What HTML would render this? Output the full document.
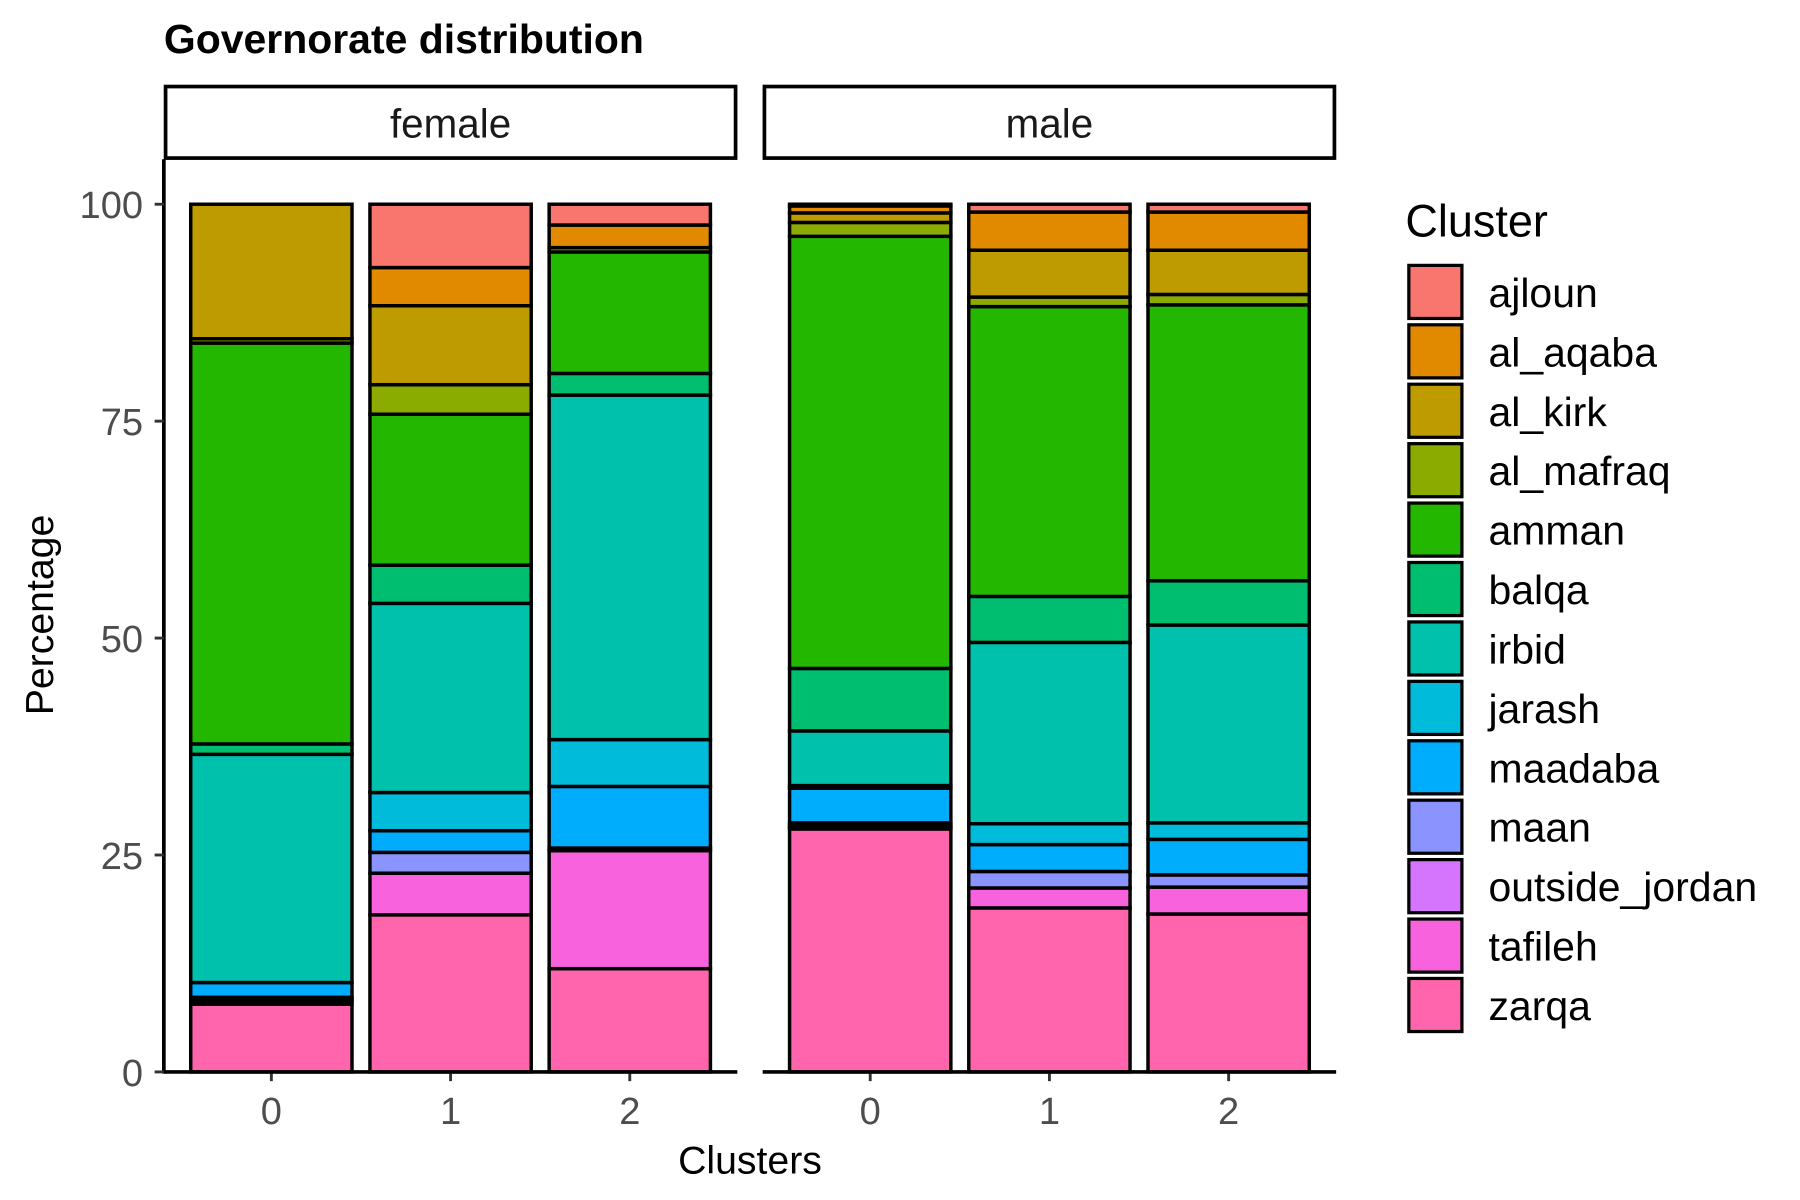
<!DOCTYPE html>
<html><head><meta charset="utf-8"><style>
html,body{margin:0;padding:0;background:#fff}
svg{display:block;font-family:"Liberation Sans",Arial,sans-serif}
</style></head><body>
<svg id="chart" width="1800" height="1200" viewBox="0 0 1560 1040">
<text x="142" y="46" font-size="35.5" font-weight="bold" fill="#000">Governorate distribution</text>
<g id="panels"></g>
<text transform="translate(46,533) rotate(-90)" text-anchor="middle" font-size="34" fill="#000">Percentage</text>
<text x="650" y="1017" text-anchor="middle" font-size="34" fill="#000">Clusters</text>
<text x="1218" y="205" font-size="39" fill="#000">Cluster</text>
<g id="legend"></g>
</svg>
<script>
const series = ["zarqa","tafileh","outside_jordan","maan","maadaba","jarash","irbid","balqa","amman","al_mafraq","al_kirk","al_aqaba","ajloun"];
const colors = ["#FF65AC","#F962DD","#D575FE","#8B93FF","#00ACFC","#00BBDA","#00C1AB","#00BE70","#24B700","#8CAB00","#BE9C00","#E18A00","#F8766D"];
const panels = ["female","male"];
const categories = ["0","1","2"];
const yTicks = [0,25,50,75,100];
const female0 = [7.8,0,0.4,0.4,1.7,0,26.3,1.2,46.2,0.5,15.5,0,0];
const female1 = [18.1,4.8,0,2.4,2.5,4.4,21.8,4.4,17.4,3.4,9.1,4.4,7.3];
const female2 = [11.9,13.6,0,0.3,7.1,5.4,39.7,2.5,14.0,0.5,0,2.6,2.4];
const male0 = [28.0,0.2,0.2,0.3,4.0,0.3,6.3,7.2,49.8,1.6,1.1,0.8,0.2];
const male1 = [18.9,2.3,0,1.9,3.1,2.4,20.9,5.3,33.4,1.1,5.4,4.4,0.9];
const male2 = [18.2,3.1,0,1.4,4.1,1.9,22.8,5.1,31.8,1.2,5.1,4.4,0.9];
const values = {female:[female0,female1,female2], male:[male0,male1,male2]};

const NS="http://www.w3.org/2000/svg";
function mk(t,a,p){const e=document.createElementNS(NS,t);for(const k in a)e.setAttribute(k,a[k]);p.appendChild(e);return e;}
const Y0=929,Y1=177;
const y=v=>Y0-(v/100)*(Y0-Y1);
const panelX=[142,661], panelW=497;
const step=panelW/(categories.length+0.2);
const x=(pi,ci)=>panelX[pi]+step*(ci+0.6);
const bw=step*0.9;
const G=document.getElementById('panels');
panels.forEach((p,pi)=>{
  const g=mk('g',{},G);
  
  
  const strip=mk('rect',{x:panelX[pi]+1.5,y:75,width:panelW-3,height:62,fill:'#fff',stroke:'#000','stroke-width':3.2},g);
  
  
  const st=mk('text',{x:panelX[pi]+panelW/2,y:119,'text-anchor':'middle','font-size':35,fill:'#1a1a1a'},g);
  st.textContent=p;
  
  
  categories.forEach((c,ci)=>{
    let acc=0;
    values[p][ci].forEach((v,si)=>{
      if(v<=0)return;
      const r=mk('rect',{x:x(pi,ci)-bw/2,y:y(acc+v),width:bw,height:y(acc)-y(acc+v),fill:colors[si],stroke:'#000','stroke-width':3},g);
      
      
      acc+=v;
    });
    const xl=mk('text',{x:x(pi,ci),y:974,'text-anchor':'middle','font-size':33,fill:'#4d4d4d'},g);
    xl.textContent=c;
    
    
    mk('line',{x1:x(pi,ci),x2:x(pi,ci),y1:929,y2:937,stroke:'#333','stroke-width':2.5},g);
  });
  const ax=mk('line',{x1:panelX[pi],x2:panelX[pi]+panelW,y1:929,y2:929,stroke:'#000','stroke-width':3.2},g);
  
  
});
const yl=mk('line',{x1:142,x2:142,y1:138,y2:930.5,stroke:'#000','stroke-width':3.2},G);


yTicks.forEach(t=>{
  mk('line',{x1:134,x2:142,y1:y(t),y2:y(t),stroke:'#333','stroke-width':2.5},G);
  const tl=mk('text',{x:124,y:y(t)+12,'text-anchor':'end','font-size':33,fill:'#4d4d4d'},G);
  tl.textContent=t;
  
  
});
const L=document.getElementById('legend');
const order=series.slice().reverse(), ocol=colors.slice().reverse();
order.forEach((s,i)=>{
  const yy=230+i*51.5;
  const r=mk('rect',{x:1221,y:yy,width:46,height:46,fill:ocol[i],stroke:'#000','stroke-width':2.8},L);
  
  
  const t=mk('text',{x:1290,y:yy+36,'font-size':35.5,fill:'#000'},L);
  t.textContent=s;
  
  
});
</script>
</body></html>
